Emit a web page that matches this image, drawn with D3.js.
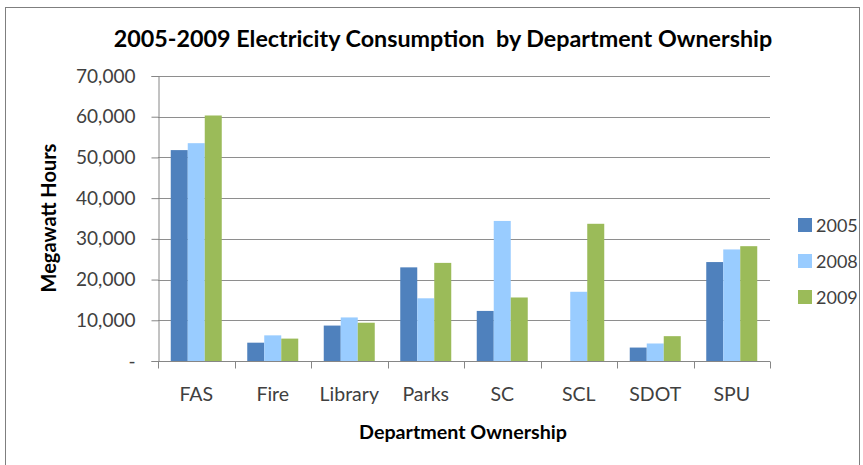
<!DOCTYPE html>
<html>
<head>
<meta charset="utf-8">
<script src="https://cdn.jsdelivr.net/npm/d3@7"></script>
<style>
  html, body { margin: 0; padding: 0; background: #fff; }
  svg { display: block; }
  text { font-family: Lato, "Open Sans", sans-serif; }
</style>
</head>
<body>
<svg id="chart" width="863" height="465"></svg>
<script>
// Electricity consumption (MWh) by department, per year
const categories = ["FAS", "Fire", "Library", "Parks", "SC", "SCL", "SDOT", "SPU"];
const years = ["2005", "2008", "2009"];
const values2005 = [51800, 4500, 8700, 23000, 12300, 0, 3300, 24300];
const values2008 = [53500, 6300, 10700, 15400, 34400, 17000, 4300, 27400];
const values2009 = [60300, 5500, 9400, 24100, 15600, 33700, 6100, 28200];
const yTicks = [0, 10000, 20000, 30000, 40000, 50000, 60000, 70000];
const colors = ["#4f81bd", "#99ccff", "#9bbb59"];

const series = [values2005, values2008, values2009];

const svg = d3.select("#chart");
const W = 863, H = 465;
const plot = { left: 158, right: 770, top: 76, bottom: 361 };

// chart frame
svg.append("rect")
  .attr("x", 5.5).attr("y", 7.5)
  .attr("width", W - 9).attr("height", H)
  .attr("fill", "#fff").attr("stroke", "#7f7f7f").attr("stroke-width", 1);

const x0 = d3.scaleBand().domain(categories).range([plot.left, plot.right]).padding(0);
const x1 = d3.scaleBand().domain(years)
  .range([x0.bandwidth() / 6, x0.bandwidth() * 5 / 6]).padding(0);
const y = d3.scaleLinear().domain([0, 70000]).range([plot.bottom, plot.top]);

// horizontal gridlines
svg.append("g")
  .selectAll("line")
  .data(yTicks.filter(d => d > 0))
  .join("line")
  .attr("x1", plot.left).attr("x2", plot.right)
  .attr("y1", d => Math.round(y(d)) + 0.5).attr("y2", d => Math.round(y(d)) + 0.5)
  .attr("stroke", "#8e8e8e").attr("stroke-width", 1);

// bars
const groups = svg.append("g")
  .selectAll("g")
  .data(categories)
  .join("g")
  .attr("transform", d => `translate(${x0(d)},0)`);

groups.selectAll("rect")
  .data((c, i) => years.map((yr, k) => ({ yr, k, v: series[k][i] })))
  .join("rect")
  .attr("x", d => x1(d.yr))
  .attr("width", x1.bandwidth())
  .attr("y", d => y(d.v))
  .attr("height", d => y(0) - y(d.v))
  .attr("fill", d => colors[d.k]);

// y axis
const yAxis = d3.axisLeft(y)
  .tickValues(yTicks)
  .tickSize(7)
  .tickPadding(16)
  .tickFormat(d => d === 0 ? "-" : d3.format(",")(d));
const gy = svg.append("g")
  .attr("transform", `translate(${plot.left + 0.5},0)`)
  .call(yAxis);
gy.select(".domain").attr("stroke", "#868686");
gy.selectAll(".tick line").attr("stroke", "#868686");
gy.selectAll(".tick text")
  .attr("font-size", 19).attr("fill", "#404040")
  .attr("font-family", "Lato, sans-serif");

// x axis: ticks sit on category boundaries
const gx = svg.append("g")
  .attr("transform", `translate(0,${plot.bottom + 0.5})`);
gx.append("line")
  .attr("x1", plot.left).attr("x2", plot.right)
  .attr("stroke", "#868686");
const boundaries = categories.map(c => x0(c)).concat([plot.right]);
gx.selectAll("line.tk")
  .data(boundaries)
  .join("line")
  .attr("class", "tk")
  .attr("x1", d => Math.round(d) + 0.5).attr("x2", d => Math.round(d) + 0.5)
  .attr("y1", 0).attr("y2", 7)
  .attr("stroke", "#868686");
gx.selectAll("text")
  .data(categories)
  .join("text")
  .attr("x", d => x0(d) + x0.bandwidth() / 2)
  .attr("y", 39)
  .attr("text-anchor", "middle")
  .attr("font-size", 19.5).attr("fill", "#404040")
  .text(d => d);

// titles
svg.append("text")
  .attr("x", 443).attr("y", 47)
  .attr("text-anchor", "middle")
  .attr("font-size", 23.3).attr("font-weight", "bold").attr("fill", "#000")
  .attr("xml:space", "preserve")
  .text("2005-2009 Electricity Consumption  by Department Ownership");

svg.append("text")
  .attr("x", 463).attr("y", 439)
  .attr("text-anchor", "middle")
  .attr("font-size", 19.7).attr("font-weight", "bold").attr("fill", "#000")
  .text("Department Ownership");

svg.append("text")
  .attr("transform", "translate(56,218) rotate(-90)")
  .attr("text-anchor", "middle")
  .attr("font-size", 20).attr("font-weight", "bold").attr("fill", "#000")
  .text("Megawatt Hours");

// legend
const legend = svg.append("g")
  .selectAll("g")
  .data(years)
  .join("g")
  .attr("transform", (d, i) => `translate(798,${225 + i * 36})`);
legend.append("rect")
  .attr("x", 0).attr("y", -7).attr("width", 14).attr("height", 14)
  .attr("fill", (d, i) => colors[i]);
legend.append("text")
  .attr("x", 18).attr("y", 7)
  .attr("font-size", 18).attr("fill", "#404040")
  .text(d => d);
</script>
</body>
</html>
